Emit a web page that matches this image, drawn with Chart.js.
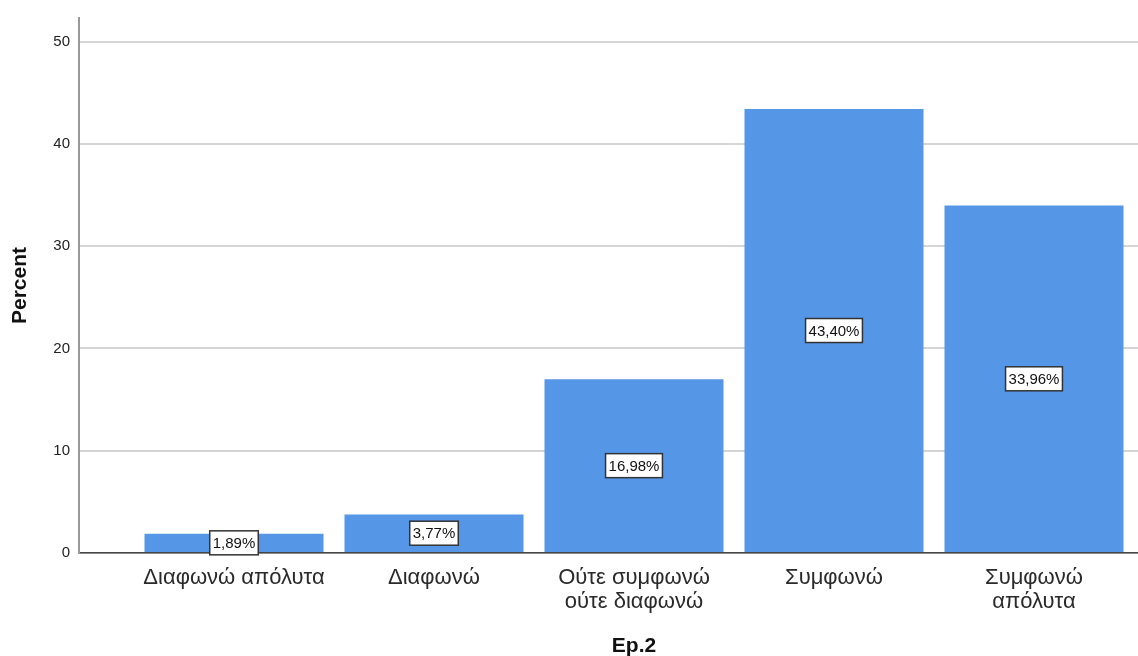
<!DOCTYPE html>
<html>
<head>
<meta charset="utf-8">
<script src="https://cdn.jsdelivr.net/npm/chart.js@4"></script>
<style>
  body { margin: 0; background: #fff; }
  canvas { display: block; }
</style>
</head>
<body>
<canvas id="chart" width="1138" height="656"></canvas>
<script>
const categories = ["Διαφωνώ απόλυτα", "Διαφωνώ", "Ούτε συμφωνώ ούτε διαφωνώ", "Συμφωνώ", "Συμφωνώ απόλυτα"];
const tickLabels = ["Διαφωνώ απόλυτα", "Διαφωνώ", ["Ούτε συμφωνώ", "ούτε διαφωνώ"], "Συμφωνώ", ["Συμφωνώ", "απόλυτα"]];
const percents = [1.89, 3.77, 16.98, 43.40, 33.96];
const yTicks = [0, 10, 20, 30, 40, 50];
const xTitle = "Ep.2";
const yTitle = "Percent";

const font = "'Liberation Sans', Arial, sans-serif";

// value boxes in the middle of each bar + x title under the middle category
const barLabels = {
  id: "barLabels",
  afterDatasetsDraw(chart) {
    const ctx = chart.ctx;
    const meta = chart.getDatasetMeta(0);
    ctx.save();
    ctx.font = "15px " + font;
    ctx.textAlign = "center";
    ctx.textBaseline = "middle";
    meta.data.forEach((bar, i) => {
      const txt = percents[i].toFixed(2).replace(".", ",") + "%";
      const w = ctx.measureText(txt).width + 6;
      const h = 24;
      const cx = bar.x;
      const cy = (bar.y + bar.base) / 2;
      ctx.fillStyle = "#fff";
      ctx.fillRect(cx - w / 2, cy - h / 2, w, h);
      ctx.strokeStyle = "#333";
      ctx.lineWidth = 1.5;
      ctx.strokeRect(cx - w / 2, cy - h / 2, w, h);
      ctx.fillStyle = "#111";
      ctx.fillText(txt, cx, cy + 1);
    });
    const x = chart.scales.x;
    ctx.font = "bold 21px " + font;
    ctx.fillStyle = "#111";
    ctx.fillText(xTitle, x.getPixelForValue(2), 646);
    ctx.restore();
  }
};

new Chart(document.getElementById("chart"), {
  type: "bar",
  data: {
    datasets: [{
      data: percents.map((p, i) => ({ x: i, y: p })),
      backgroundColor: "#5596e6",
      barPercentage: 0.895,
      categoryPercentage: 1
    }]
  },
  options: {
    responsive: false,
    animation: false,
    layout: { padding: { top: 14, right: 0, left: 0, bottom: 0 } },
    plugins: {
      legend: { display: false },
      tooltip: { enabled: false }
    },
    scales: {
      x: {
        type: "linear",
        offset: false,
        min: -0.775,
        max: 4.52,
        afterBuildTicks: (s) => { s.ticks = categories.map((c, i) => ({ value: i })); },
        afterFit: (s) => { s.height = 103; },
        grid: { display: false, drawTicks: false },
        border: { display: true, color: "#444", width: 1.5 },
        ticks: {
          autoSkip: false,
          maxRotation: 0,
          padding: 13,
          color: "#2a2a2a",
          font: { family: font, size: 22, lineHeight: 1.1 },
          callback: (v) => tickLabels[v]
        }
      },
      y: {
        min: 0,
        max: 52.3,
        afterBuildTicks: (s) => { s.ticks = yTicks.map(v => ({ value: v })); },
        afterFit: (s) => { s.width = 79; },
        grid: { color: "#d4d4d4", lineWidth: 2, drawTicks: false },
        border: { display: true, color: "#999", width: 2 },
        ticks: {
          padding: 9,
          color: "#222",
          font: { family: font, size: 15 }
        },
        title: {
          display: true,
          text: yTitle,
          color: "#111",
          padding: { top: 8, bottom: 0 },
          font: { family: font, size: 21, weight: "bold" }
        }
      }
    }
  },
  plugins: [barLabels]
});
</script>
</body>
</html>
